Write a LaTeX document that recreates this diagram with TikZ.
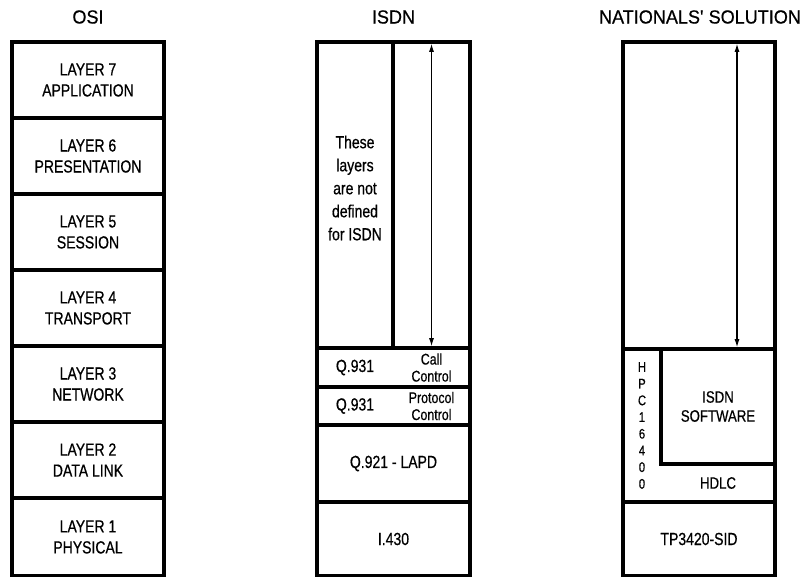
\documentclass[tikz,border=0pt]{standalone}
\usepackage{fontspec}
\setmainfont{Liberation Sans}[FakeStretch=0.8, FakeBold=0.6]
\newfontfamily\headfont{Liberation Sans}[FakeStretch=0.95, FakeBold=0.6]
\usepackage{tikz}
\usetikzlibrary{arrows.meta,positioning,calc}

\begin{document}
\begin{tikzpicture}[x=1pt, y=-1pt, node distance=0pt, >={Latex[length=8pt,width=5pt]},
    every node/.style={outer sep=0pt, inner sep=0pt, align=center},
    layer/.style={draw, line width=3.6pt, minimum width=152pt, minimum height=76pt, font=\fontsize{17.5}{21}\selectfont},
    heading/.style={font=\headfont\fontsize{19}{22}\selectfont},
    small/.style={font=\fontsize{15.5}{17}\selectfont},
    span/.style={<->, line width=1.1pt, shorten <=1.8pt, shorten >=1.8pt}]
    \useasboundingbox (0,0) rectangle (804,577);

    % OSI
    \node [heading] (osi) at (88,17) {OSI};
    \node [layer] (l7) at (88,80) {LAYER 7\\APPLICATION};
    \node [layer, below=of l7] (l6) {LAYER 6\\PRESENTATION};
    \node [layer, below=of l6] (l5) {LAYER 5\\SESSION};
    \node [layer, below=of l5] (l4) {LAYER 4\\TRANSPORT};
    \node [layer, below=of l4] (l3) {LAYER 3\\NETWORK};
    \node [layer, below=of l3] (l2) {LAYER 2\\DATA LINK};
    \node [layer, below=of l2, minimum height=78pt] (l1) {LAYER 1\\PHYSICAL};

    % ISDN
    \node [heading] (isdn) at (393.5,17) {ISDN};
    \node [layer, minimum width=76pt, minimum height=306pt] (undef) at (355,195) {};
    \node [layer, minimum width=77pt, minimum height=306pt, right=of undef] (isdnup) {};
    \node [font=\fontsize{17.5}{23}\selectfont] (undeftxt) at (355,188) {These\\layers\\are not\\defined\\for ISDN};
    \node [layer, minimum width=153pt, minimum height=39pt, below right=of undef.south west] (callrow) {};
    \node [layer, minimum width=153pt, minimum height=38pt, below=of callrow] (protrow) {};
    \node [layer, minimum width=153pt, minimum height=77pt, below=of protrow] (lapd) {Q.921 - LAPD};
    \node [layer, minimum width=153pt, minimum height=74pt, below=of lapd] (phys) {I.430};
    \node [font=\fontsize{17.5}{21}\selectfont] (q931a) at (callrow.center -| undef) {Q.931};
    \node [small] (callctl) at (callrow.center -| isdnup) {Call\\Control};
    \node [font=\fontsize{17.5}{21}\selectfont] (q931b) at (protrow.center -| undef) {Q.931};
    \node [small] (protctl) at (protrow.center -| isdnup) {Protocol\\Control};
    \draw [span] (isdnup.south) -- (isdnup.north);

    % Nationals' solution
    \node [heading] (nat) at (700,17) {NATIONALS\textquotesingle\ SOLUTION};
    \node [layer, minimum height=307pt] (nsup) at (699,195.5) {};
    \node [layer, minimum height=153pt, below=of nsup] (chip) {};
    \node [layer, minimum width=114pt, minimum height=115pt, below left=of nsup.south east, font=\fontsize{16.5}{19}\selectfont] (isdnsw) {ISDN\\SOFTWARE};
    \node [font=\fontsize{16.5}{19}\selectfont] (hdlc) at ($(isdnsw.south)!0.5!(isdnsw.south |- chip.south)$) {HDLC};
    \node [font=\fontsize{14}{16.7}\selectfont] (hpc) at ($(chip.west)!0.5!(isdnsw.west |- chip.west)$) {H\\P\\C\\1\\6\\4\\0\\0};
    \node [layer, minimum height=74pt, below=of chip] (sid) {TP3420-SID};
    \draw [span] ($(nsup.south)+(38,0)$) -- ($(nsup.north)+(38,0)$);
\end{tikzpicture}
\end{document}
